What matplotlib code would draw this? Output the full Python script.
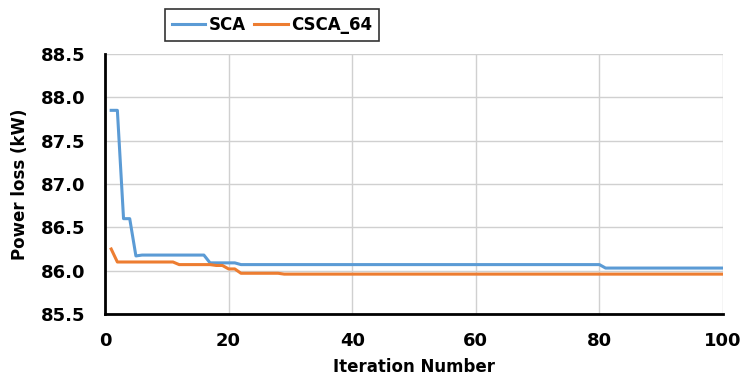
import matplotlib.pyplot as plt

plt.rcParams['font.family'] = ['DejaVu Sans']
plt.rcParams['font.weight'] = 'bold'

iters = list(range(1, 101))
# values (per iteration)
sca = [87.85, 87.85, 86.60, 86.60, 86.17] + [86.18] * 11 + [86.09] * 5 + [86.07] * 59 + [86.03] * 20
csca_64 = [86.25, 86.10] + [86.10] * 9 + [86.07] * 6 + [86.06] * 2 + [86.02] * 2 + [85.97] * 7 + [85.96] * 72

fig = plt.figure(figsize=(7.46, 3.81), dpi=100)
ax = fig.add_axes([105 / 746, 1 - 314 / 381, (723 - 105) / 746, (314 - 54) / 381])

ax.plot(iters, sca, color='#5B9BD5', lw=2.2, label='SCA')
ax.plot(iters, csca_64, color='#ED7D31', lw=2.2, label='CSCA_64')

ax.set_xlim(0, 100)
ax.set_ylim(85.5, 88.5)
ax.set_xticks([0, 20, 40, 60, 80, 100])
ax.set_yticks([85.5, 86.0, 86.5, 87.0, 87.5, 88.0, 88.5])
ax.set_yticklabels(['85.5', '86.0', '86.5', '87.0', '87.5', '88.0', '88.5'])
ax.grid(True, color='#d0d0d0', lw=1)
ax.set_axisbelow(True)
ax.tick_params(length=0, labelsize=13)
ax.tick_params(axis='y', pad=14)
ax.tick_params(axis='x', pad=13)

for s in ['top', 'right']:
    ax.spines[s].set_visible(False)
for s in ['left', 'bottom']:
    ax.spines[s].set_linewidth(2)
    ax.spines[s].set_color('black')

ax.set_xlabel('Iteration Number', fontsize=12, fontweight='bold')
ax.set_ylabel('Power loss (kW)', fontsize=12, fontweight='bold')
ax.xaxis.set_label_coords(0.5, -(367 - 314) / 260, transform=ax.transAxes)
ax.xaxis.label.set_va('center')
ax.yaxis.set_label_coords(-(105 - 20) / 618, 0.5, transform=ax.transAxes)
ax.yaxis.label.set_va('center')

leg = fig.legend(loc='center', bbox_to_anchor=(272 / 746, 1 - 25 / 381), ncol=2,
                 fontsize=12, frameon=True, fancybox=False, edgecolor='black',
                 handlelength=2.0, columnspacing=0.5, handletextpad=0.2,
                 borderpad=0.4)
leg.get_frame().set_linewidth(1.2)

fig.savefig('out.png', dpi=100)
